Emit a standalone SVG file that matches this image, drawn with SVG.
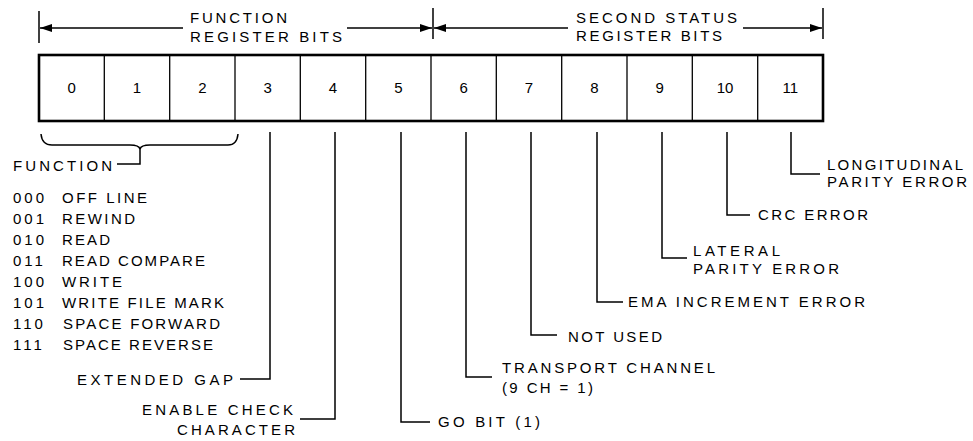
<svg xmlns="http://www.w3.org/2000/svg" width="973" height="441" viewBox="0 0 973 441">
<defs>
<style>
text{font-family:"Liberation Sans",Arial,sans-serif;font-size:15px;fill:#000}
.num{text-anchor:middle}
.ln{fill:none;stroke:#000;stroke-width:1.5}
.box{fill:none;stroke:#000;stroke-width:2.6}
.div{stroke:#000;stroke-width:1.3}
</style>
<marker id="ah" viewBox="0 0 12 8" refX="12" refY="4" markerWidth="12" markerHeight="8" markerUnits="userSpaceOnUse" orient="auto-start-reverse">
<path d="M0,0 L12,4 L0,8 Z" fill="#000"/>
</marker>
</defs>
<rect width="973" height="441" fill="#fff"/>

<g id="header">
<line class="ln" x1="39" y1="11" x2="39" y2="43"/>
<line class="ln" x1="433" y1="8" x2="433" y2="39"/>
<line class="ln" x1="823" y1="8" x2="823" y2="39"/>
<text x="190" y="23" textLength="97" lengthAdjust="spacing">FUNCTION</text>
<text x="190" y="42" textLength="152" lengthAdjust="spacing">REGISTER BITS</text>
<text x="576" y="23" textLength="161" lengthAdjust="spacing">SECOND STATUS</text>
<text x="576" y="41" textLength="146" lengthAdjust="spacing">REGISTER BITS</text>
</g>

<g id="register">
<rect class="box" x="39" y="55" width="784" height="66"/>
<line class="div" x1="104.3" y1="55" x2="104.3" y2="121"/>
<line class="div" x1="169.7" y1="55" x2="169.7" y2="121"/>
<line class="div" x1="235" y1="55" x2="235" y2="121"/>
<line class="div" x1="300.3" y1="55" x2="300.3" y2="121"/>
<line class="div" x1="365.7" y1="55" x2="365.7" y2="121"/>
<line class="div" x1="431" y1="55" x2="431" y2="121"/>
<line class="div" x1="496.3" y1="55" x2="496.3" y2="121"/>
<line class="div" x1="561.7" y1="55" x2="561.7" y2="121"/>
<line class="div" x1="627" y1="55" x2="627" y2="121"/>
<line class="div" x1="692.3" y1="55" x2="692.3" y2="121"/>
<line class="div" x1="757.7" y1="55" x2="757.7" y2="121"/>
<text class="num" x="71.7" y="93">0</text>
<text class="num" x="137" y="93">1</text>
<text class="num" x="202.3" y="93">2</text>
<text class="num" x="267.7" y="93">3</text>
<text class="num" x="333" y="93">4</text>
<text class="num" x="398.3" y="93">5</text>
<text class="num" x="463.7" y="93">6</text>
<text class="num" x="529" y="93">7</text>
<text class="num" x="594.3" y="93">8</text>
<text class="num" x="659.7" y="93">9</text>
<text class="num" x="725" y="93">10</text>
<text class="num" x="790.3" y="93">11</text>
</g>

<g id="function-list">
<text x="13" y="171" textLength="99" lengthAdjust="spacing">FUNCTION</text>
<g style="letter-spacing:3px">
<text x="13" y="203">000</text>
<text x="13" y="224">001</text>
<text x="13" y="245">010</text>
<text x="13" y="266">011</text>
<text x="13" y="287">100</text>
<text x="13" y="308">101</text>
<text x="13" y="329">110</text>
<text x="13" y="350">111</text>
</g>
<text x="62" y="203" textLength="85" lengthAdjust="spacing">OFF LINE</text>
<text x="62" y="224" textLength="73" lengthAdjust="spacing">REWIND</text>
<text x="62" y="245" textLength="48" lengthAdjust="spacing">READ</text>
<text x="62" y="266" textLength="143" lengthAdjust="spacing">READ COMPARE</text>
<text x="62" y="287" textLength="60" lengthAdjust="spacing">WRITE</text>
<text x="62" y="308" textLength="162" lengthAdjust="spacing">WRITE FILE MARK</text>
<text x="63" y="329" textLength="157" lengthAdjust="spacing">SPACE FORWARD</text>
<text x="63" y="350" textLength="150" lengthAdjust="spacing">SPACE REVERSE</text>
</g>

<g id="labels">
<text x="77" y="385" textLength="156" lengthAdjust="spacing">EXTENDED GAP</text>
<text x="142" y="415" textLength="151" lengthAdjust="spacing">ENABLE CHECK</text>
<text x="177" y="435" textLength="118" lengthAdjust="spacing">CHARACTER</text>
<text x="438" y="427" textLength="102" lengthAdjust="spacing">GO BIT (1)</text>
<text x="502" y="373" textLength="213" lengthAdjust="spacing">TRANSPORT CHANNEL</text>
<text x="502" y="393" textLength="91" lengthAdjust="spacing">(9 CH = 1)</text>
<text x="568" y="342" textLength="94" lengthAdjust="spacing">NOT USED</text>
<text x="628" y="307" textLength="237" lengthAdjust="spacing">EMA INCREMENT ERROR</text>
<text x="693" y="256" textLength="87" lengthAdjust="spacing">LATERAL</text>
<text x="693" y="274" textLength="146" lengthAdjust="spacing">PARITY ERROR</text>
<text x="758" y="220" textLength="110" lengthAdjust="spacing">CRC ERROR</text>
<text x="827" y="170" textLength="136" lengthAdjust="spacing">LONGITUDINAL</text>
<text x="827" y="187" textLength="140" lengthAdjust="spacing">PARITY ERROR</text>
</g>

<g id="connectors">
<line class="ln" x1="183" y1="28" x2="40" y2="28" marker-end="url(#ah)"/>
<line class="ln" x1="347" y1="28" x2="432" y2="28" marker-end="url(#ah)"/>
<line class="ln" x1="568" y1="28" x2="434" y2="28" marker-end="url(#ah)"/>
<line class="ln" x1="743" y1="28" x2="822" y2="28" marker-end="url(#ah)"/>
<path class="ln" d="M41,134 Q42,145 52,145 L130,145 Q139,145 140,149 Q141,145 150,145 L228,145 Q237,145 238,134"/>
<path class="ln" d="M140,149 L140,164 L117,164"/>
<path class="ln" d="M270,132 L270,379 L240,379"/>
<path class="ln" d="M335,132 L335,419 L300,419"/>
<path class="ln" d="M401,132 L401,422 L430,422"/>
<path class="ln" d="M466,132 L466,377 L492,377"/>
<path class="ln" d="M531,132 L531,335 L557,335"/>
<path class="ln" d="M597,132 L597,302 L623,302"/>
<path class="ln" d="M662,132 L662,258 L687,258"/>
<path class="ln" d="M727,132 L727,215 L750,215"/>
<path class="ln" d="M791,132 L791,174 L820,174"/>
</g>
</svg>
